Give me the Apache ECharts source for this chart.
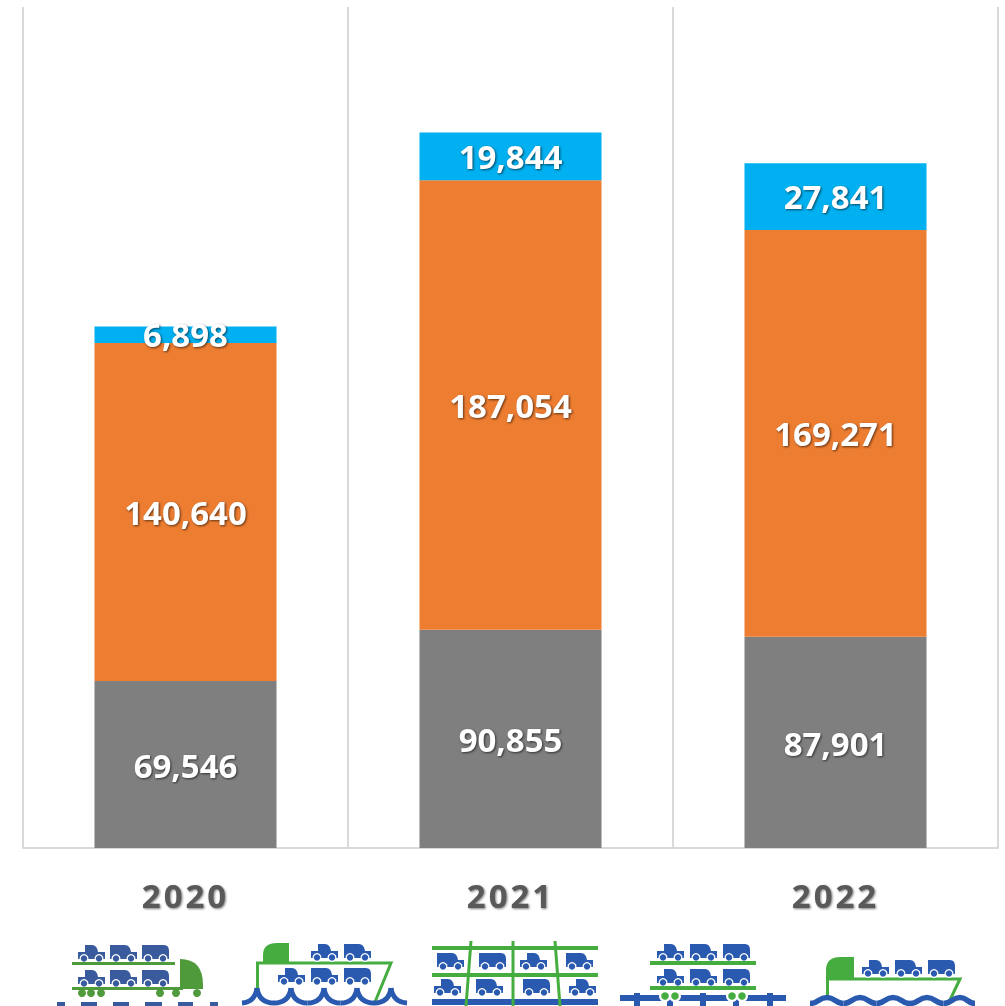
<!DOCTYPE html>
<html>
<head>
<meta charset="utf-8">
<style>
html,body{margin:0;padding:0;background:#fff;overflow:hidden}
#chart{width:1005px;height:1006px}
#chart text[fill="#595959"]{letter-spacing:3px;filter:drop-shadow(1.5px 1.5px 1.2px rgba(0,0,0,.5))}
#chart text[fill="#fff"]{filter:drop-shadow(1.5px 1.5px 1.2px rgba(0,0,0,.6))}
</style>
<script src="https://cdn.jsdelivr.net/npm/echarts@6/dist/echarts.min.js"></script>
</head>
<body>
<div id="chart"></div>
<script>
// Annual volumes, stacked bottom to top
const years = ['2020', '2021', '2022'];
const greySeries = [69546, 90855, 87901];
const orangeSeries = [140640, 187054, 169271];
const blueSeries = [6898, 19844, 27841];

const BLUE = '#2a5ab0', GREEN = '#45ac3f';
const TRUCK_BLUE = '#3a5a9e', TRUCK_GREEN = '#4f9a3a';

// Reusable pictogram outlines, registered as graphic shape types
const outlines = {
  carBody: 'M0 7 H7 V0 H14 Q19 0 20 7 H27 V14 H0 Z',
  vanBody: 'M0 0 H15 Q20 0 21 7 H27 V14 H0 Z',
  boxBody: 'M0 0 H22 Q27 0 27 6 V14 H0 Z',
  cabinSmall: 'M0 20 V12 Q0 0 14 0 H26 V20 Z',
  cabinLarge: 'M0 21 V13 Q0 0 15 0 H28 V21 Z',
  truckCab: 'M0 0 Q23 0 23 26 V30 H0 Z'
};
Object.keys(outlines).forEach(name => {
  echarts.graphic.registerShape(name, echarts.graphic.extendPath(outlines[name], {}));
});

function vehicle(kind, x, y, colour) {
  const wheel = (cx) => [
    {type: 'circle', shape: {cx, cy: y + 13.5, r: 4.4}, style: {fill: '#fff'}},
    {type: 'circle', shape: {cx, cy: y + 13.5, r: 3.2}, style: {fill: colour}}
  ];
  return [
    {type: kind + 'Body', x, y, style: {fill: colour}},
    ...wheel(x + 6), ...wheel(x + 21)
  ];
}
const rect = (x, y, width, height, fill) => ({type: 'rect', shape: {x, y, width, height}, style: {fill}});
const dot = (cx, cy, r, fill) => ({type: 'circle', shape: {cx, cy, r}, style: {fill}});
const line = (points, stroke, lineWidth) => ({type: 'polyline', shape: {points}, style: {stroke, lineWidth, fill: 'none'}});
const curve = (x1, y1, cx, cy, x2, y2, stroke, lineWidth) => ({
  type: 'bezierCurve',
  shape: {x1, y1, cpx1: cx, cpy1: cy, x2, y2},
  style: {stroke, lineWidth, fill: 'none'}
});
const swell = (x1, y1, x2, y2, stroke, lineWidth) => ({
  type: 'bezierCurve',
  shape: {x1, y1, cpx1: (x1 + x2) / 2, cpy1: y1, cpx2: (x1 + x2) / 2, cpy2: y2, x2, y2},
  style: {stroke, lineWidth, fill: 'none'}
});

function truckIcon() {
  const c = TRUCK_BLUE, g = TRUCK_GREEN;
  const out = [];
  [['car', 78], ['van', 110], ['box', 142]].forEach(([k, x]) => {
    out.push(...vehicle(k, x, 945, c), ...vehicle(k, x, 970, c));
  });
  out.push(rect(72, 962, 103, 3, g), rect(72, 987, 111, 3, g));
  out.push({type: 'truckCab', x: 180, y: 959, style: {fill: g}});
  [82, 91, 101, 160, 176, 197].forEach(x => out.push(dot(x, 993, 4, g)));
  [[57, 8], [81, 16], [113, 16], [145, 17], [178, 15], [210, 8]].forEach(([x, w]) => out.push(rect(x, 1002, w, 4, c)));
  return out;
}

function ferryIcon() {
  const out = [{type: 'cabinSmall', x: 263, y: 943, style: {fill: GREEN}}];
  out.push(line([[257.5, 988], [257.5, 963], [391, 963], [375, 1002]], GREEN, 3));
  out.push(...vehicle('car', 311, 944, BLUE), ...vehicle('van', 344, 944, BLUE));
  [['car', 278], ['van', 311], ['box', 344]].forEach(([k, x]) => out.push(...vehicle(k, x, 968, BLUE)));
  const peaks = [257, 291, 324, 357, 391];
  out.push(curve(242, 1003, 255, 1002, 257, 988, BLUE, 5));
  for (let i = 0; i < peaks.length - 1; i++) {
    const a = peaks[i], b = peaks[i + 1], m = (a + b) / 2;
    out.push(curve(a, 988, a + 2, 1003, m, 1003, BLUE, 5), curve(m, 1003, b - 2, 1003, b, 988, BLUE, 5));
  }
  out.push(curve(391, 988, 393, 1002, 407, 1003, BLUE, 5));
  return out;
}

function rackIcon() {
  const out = [];
  [['van', 437], ['box', 479], ['car', 520], ['van', 566]].forEach(([k, x]) => out.push(...vehicle(k, x, 953, BLUE)));
  [['car', 434], ['van', 476], ['box', 523], ['car', 569]].forEach(([k, x]) => out.push(...vehicle(k, x, 979, BLUE)));
  out.push(rect(432, 999, 166, 6, BLUE));
  out.push(rect(432, 946, 166, 4, GREEN), rect(432, 973, 166, 4, GREEN));
  out.push(line([[471, 941], [466, 1006]], GREEN, 3), line([[513, 941], [513, 1006]], GREEN, 3), line([[555, 941], [560, 1006]], GREEN, 3));
  return out;
}

function railIcon() {
  const out = [];
  [['car', 657], ['van', 690], ['box', 723]].forEach(([k, x]) => {
    out.push(...vehicle(k, x, 944, BLUE), ...vehicle(k, x, 969, BLUE));
  });
  out.push(rect(650, 961, 106, 4, GREEN), rect(650, 986, 106, 4, GREEN));
  out.push(rect(620, 995, 166, 6, BLUE));
  [634, 700, 767].forEach(x => out.push(rect(x, 993, 6, 13, BLUE)));
  [667, 733].forEach(x => out.push(rect(x, 1001, 6, 5, BLUE)));
  [[665, 675], [732, 742]].forEach(([a, b]) => {
    out.push(dot(a, 996, 6, '#fff'), dot(b, 996, 6, '#fff'), dot(a, 996, 3.8, GREEN), dot(b, 996, 3.8, GREEN));
  });
  return out;
}

function bargeIcon() {
  const out = [{type: 'cabinLarge', x: 826, y: 957, style: {fill: GREEN}}];
  out.push(line([[827.5, 996], [827.5, 979], [960, 979], [950, 1000]], GREEN, 3));
  [['car', 862], ['van', 895], ['box', 928]].forEach(([k, x]) => out.push(...vehicle(k, x, 960, BLUE)));
  const knots = [810, 827, 843.5, 860, 876.5, 893, 910, 927, 943.5, 960, 975];
  for (let i = 0; i < knots.length - 1; i++) {
    const rising = i % 2 === 0;
    out.push(swell(knots[i], rising ? 1003.5 : 997.5, knots[i + 1], rising ? 997.5 : 1003.5, BLUE, 5.5));
  }
  return out;
}

const makeSeries = (name, data, color, labelShift) => ({
  name, type: 'bar', stack: 'total', data, barWidth: '56%',
  itemStyle: {color},
  label: {
    show: true, position: 'inside', offset: [0, labelShift], color: '#fff',
    fontFamily: 'Open Sans', fontWeight: 700, fontSize: 33,
    formatter: p => p.value.toLocaleString('en-US')
  }
});

const chart = echarts.init(document.getElementById('chart'), null, {renderer: 'svg'});
chart.setOption({
  animation: false,
  backgroundColor: '#fff',
  grid: {left: 23, right: 7, top: 7, bottom: 158},
  xAxis: {
    type: 'category', data: years,
    axisTick: {show: false},
    axisLine: {lineStyle: {color: '#d9d9d9', width: 2}},
    splitLine: {show: true, interval: 0, lineStyle: {color: '#d9d9d9', width: 2}},
    axisLabel: {margin: 31, color: '#595959', fontFamily: 'Open Sans', fontWeight: 700, fontSize: 33}
  },
  yAxis: {type: 'value', min: 0, max: 350000, show: false, splitLine: {show: false}},
  series: [
    makeSeries('Grey', greySeries, '#7f7f7f', 1),
    makeSeries('Orange', orangeSeries, '#ed7d31', 0.5),
    makeSeries('Blue', blueSeries, '#00b0f0', 0)
  ],
  graphic: {elements: [...truckIcon(), ...ferryIcon(), ...rackIcon(), ...railIcon(), ...bargeIcon()]}
});
</script>
</body>
</html>
